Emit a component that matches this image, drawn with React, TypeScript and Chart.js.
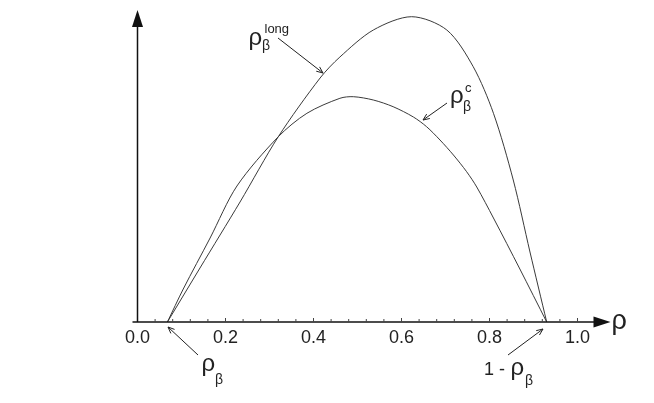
import React, { useEffect, useRef } from "react";
import { Chart, registerables } from "chart.js";

Chart.register(...registerables);

// rho values and heights of the critical density curve (rho_beta^c)
const rhoC = [0.068, 0.104, 0.165, 0.226, 0.32, 0.385, 0.46, 0.4905, 0.536, 0.581, 0.627, 0.657, 0.6875, 0.718, 0.748, 0.771, 0.809, 0.869, 0.93];
const valC = [0, 0.33, 0.84, 1.36, 1.853, 2.087, 2.237, 2.253, 2.22, 2.153, 2.05, 1.953, 1.82, 1.67, 1.503, 1.35, 1.04, 0.53, 0];

// rho values and heights of the long curve (rho_beta^long)
const rhoLong = [0.068, 0.142, 0.233, 0.32, 0.415, 0.46, 0.536, 0.623, 0.703, 0.763, 0.809, 0.854, 0.892, 0.93];
const valLong = [0, 0.54, 1.2, 1.853, 2.44, 2.65, 2.92, 3.053, 2.92, 2.553, 2.087, 1.42, 0.7, 0];

const xTicks = [0, 0.2, 0.4, 0.6, 0.8, 1.0];
const X_MAX = 1.075;
const Y_MAX = 3.12;

const FONT = '"Liberation Sans", Arial, Helvetica, sans-serif';

function arrow(ctx: CanvasRenderingContext2D, x1: number, y1: number, x2: number, y2: number) {
  const a = Math.atan2(y2 - y1, x2 - x1);
  const L = 7;
  const s = 0.4;
  ctx.beginPath();
  ctx.moveTo(x1, y1);
  ctx.lineTo(x2, y2);
  ctx.moveTo(x2 - L * Math.cos(a - s), y2 - L * Math.sin(a - s));
  ctx.lineTo(x2, y2);
  ctx.lineTo(x2 - L * Math.cos(a + s), y2 - L * Math.sin(a + s));
  ctx.stroke();
}

const decor = {
  id: "decor",
  afterDraw(chart: any) {
    const ctx: CanvasRenderingContext2D = chart.ctx;
    const xs = chart.scales.x;
    const ys = chart.scales.y;
    const x0 = xs.getPixelForValue(0);
    const y0 = ys.getPixelForValue(0);
    const xEnd = xs.right;
    const yTop = ys.top;
    ctx.save();
    ctx.strokeStyle = "#111";
    ctx.fillStyle = "#111";
    ctx.lineWidth = 1.5;
    // x axis
    ctx.beginPath();
    ctx.moveTo(x0 - 5, y0);
    ctx.lineTo(xEnd - 15, y0);
    ctx.stroke();
    ctx.beginPath();
    ctx.moveTo(xEnd, y0);
    ctx.lineTo(xEnd - 17, y0 - 5.5);
    ctx.lineTo(xEnd - 17, y0 + 5.5);
    ctx.closePath();
    ctx.fill();
    // y axis
    ctx.beginPath();
    ctx.moveTo(x0, y0);
    ctx.lineTo(x0, yTop + 15);
    ctx.stroke();
    ctx.beginPath();
    ctx.moveTo(x0, yTop);
    ctx.lineTo(x0 - 5.5, yTop + 17);
    ctx.lineTo(x0 + 5.5, yTop + 17);
    ctx.closePath();
    ctx.fill();
    // tick marks
    ctx.lineWidth = 1;
    ctx.strokeStyle = "#444";
    for (let i = 1; i <= 25; i++) {
      const v = i * 0.04;
      const px = xs.getPixelForValue(v);
      const major = i % 5 === 0;
      ctx.beginPath();
      ctx.moveTo(px, y0);
      ctx.lineTo(px, y0 - (major ? 4 : 3));
      ctx.stroke();
    }
    // annotations
    ctx.fillStyle = "#222";
    ctx.textBaseline = "alphabetic";
    ctx.textAlign = "left";
    // rho_beta^long
    ctx.font = `24px ${FONT}`;
    ctx.fillText("ρ", 248.5, 44.5);
    ctx.font = `14px ${FONT}`;
    ctx.fillText("β", 262, 50);
    ctx.font = `13px ${FONT}`;
    ctx.fillText("long", 264.5, 32.5);
    // rho_beta^c
    ctx.font = `24px ${FONT}`;
    ctx.fillText("ρ", 450, 102.7);
    ctx.font = `14px ${FONT}`;
    ctx.fillText("β", 463, 111);
    ctx.font = `13px ${FONT}`;
    ctx.fillText("c", 465, 92);
    // rho_beta below axis
    ctx.font = `24px ${FONT}`;
    ctx.fillText("ρ", 201.5, 371);
    ctx.font = `14px ${FONT}`;
    ctx.fillText("β", 215, 384);
    // 1 - rho_beta
    ctx.font = `18px ${FONT}`;
    ctx.fillText("1 -", 484, 375);
    ctx.font = `24px ${FONT}`;
    ctx.fillText("ρ", 510.5, 375);
    ctx.font = `14px ${FONT}`;
    ctx.fillText("β", 525, 385);
    // axis label
    ctx.font = `27px ${FONT}`;
    ctx.fillText("ρ", 611.5, 329);
    // arrows
    ctx.strokeStyle = "#222";
    ctx.lineWidth = 1;
    arrow(ctx, 278, 38, 323, 73);
    arrow(ctx, 447, 103, 423, 120);
    arrow(ctx, 198, 355, 168, 327);
    arrow(ctx, 508, 355, 543, 329);
    ctx.restore();
  },
};

export default function App() {
  const ref = useRef<HTMLCanvasElement | null>(null);
  useEffect(() => {
    document.body.style.margin = "0";
    document.body.style.background = "#fff";
    const canvas = ref.current;
    if (!canvas) return;
    const chart = new Chart(canvas, {
      type: "line",
      data: {
        datasets: [
          {
            label: "ρβ^c",
            data: rhoC.map((r, i) => ({ x: r, y: valC[i] })),
            borderColor: "#3a3a3a",
            borderWidth: 1,
            pointRadius: 0,
            tension: 0.3,
            fill: false,
          },
          {
            label: "ρβ^long",
            data: rhoLong.map((r, i) => ({ x: r, y: valLong[i] })),
            borderColor: "#3a3a3a",
            borderWidth: 1,
            pointRadius: 0,
            tension: 0.3,
            fill: false,
          },
        ],
      },
      options: {
        responsive: false,
        animation: false,
        devicePixelRatio: 1,
        layout: { padding: { left: 137.5, right: 43.5, top: 10, bottom: 0 } },
        plugins: { legend: { display: false }, tooltip: { enabled: false } },
        scales: {
          x: {
            type: "linear",
            min: 0,
            max: X_MAX,
            grid: { display: false, drawTicks: false },
            border: { display: false },
            afterBuildTicks: (scale: any) => {
              scale.ticks = xTicks.map((v) => ({ value: v }));
            },
            afterFit: (scale: any) => {
              scale.height = 81;
            },
            ticks: {
              padding: 5,
              maxRotation: 0,
              autoSkip: false,
              color: "#222",
              font: { family: FONT, size: 18 },
              callback: (v: any) => Number(v).toFixed(1),
            },
          },
          y: {
            type: "linear",
            min: 0,
            max: Y_MAX,
            display: false,
          },
        },
      },
      plugins: [decor],
    } as any);
    return () => chart.destroy();
  }, []);
  return (
    <canvas ref={ref} width={654} height={403} style={{ display: "block", width: 654, height: 403 }} />
  );
}
